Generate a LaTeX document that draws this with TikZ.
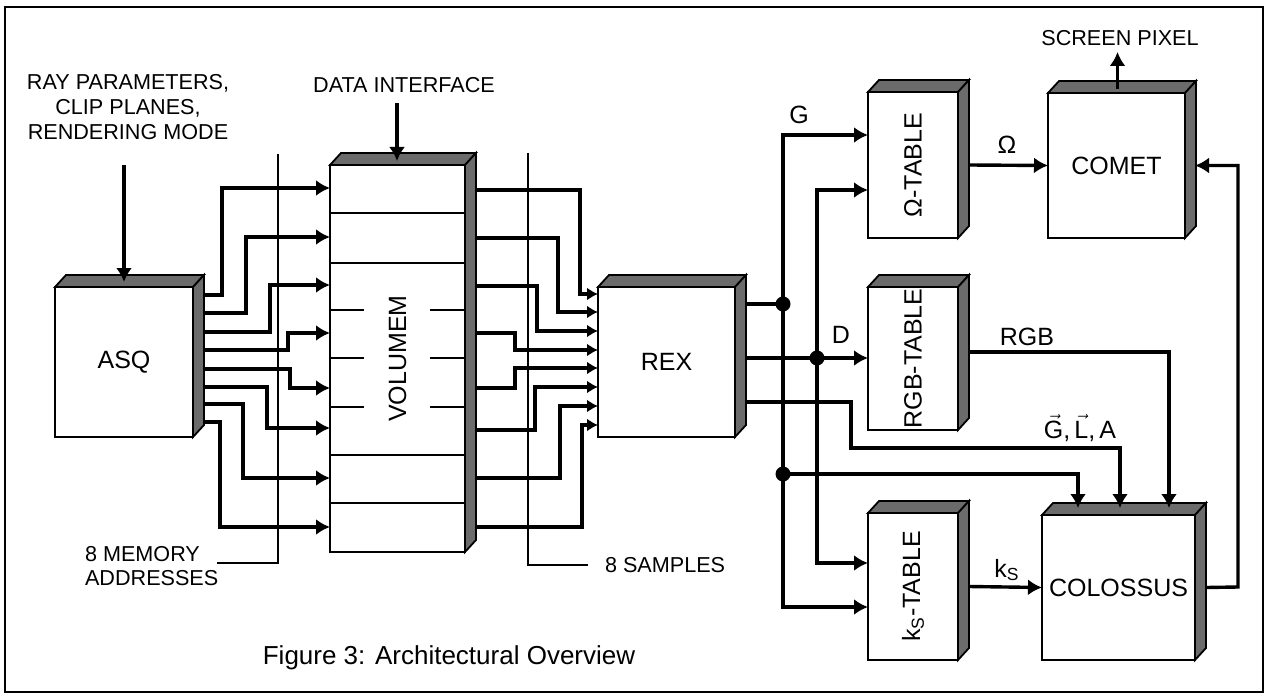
\documentclass[tikz,border=0pt]{standalone}
\usepackage{amsmath}
\usepackage{fontspec}
\setmainfont{Liberation Sans}
\usetikzlibrary{calc,fit,arrows.meta}
\newcommand\threedbox[5]{%
  \node[blk,fit={(#2,#3) (#4,#5)}] (#1) {};
  \filldraw[face] (#1.north west) -- ++(11,-12) -- ($(#1.north east)+(11,-12)$) -- (#1.north east) -- cycle;
  \filldraw[face] (#1.north east) -- ++(11,-12) -- ($(#1.south east)+(11,-12)$) -- (#1.south east) -- cycle;
}
\begin{document}
\begin{tikzpicture}[x=0.5pt,y=-0.5pt,
  blk/.style={draw,line width=1.2pt,fill=white,inner sep=0pt,outer sep=0pt},
  face/.style={draw,line width=0.9pt,fill=black!58},
  big/.style={font=\fontsize{12.5}{15}\selectfont},
  small/.style={font=\fontsize{10.8}{12.3}\selectfont,align=center},
  conn/.style={line width=1.7pt,-{Latex[length=7pt,width=8pt]}},
  tip/.style={line width=1.7pt,-{Latex[length=5.5pt,width=6.5pt]}},
  wire/.style={line width=1.7pt},
  thin/.style={line width=0.8pt},
  dot/.style={circle,fill,inner sep=0pt,minimum size=7.5pt}]
\useasboundingbox (0,0) rectangle (1268,695);
\draw[line width=1.2pt] (5,7) rectangle (1263,692);

% boxes
\threedbox{asq}{55}{287}{193}{437}
\threedbox{vol}{330}{165}{465}{552}
\threedbox{rex}{598}{287}{735}{437}
\threedbox{omt}{868}{92}{958}{238}
\threedbox{rgbt}{868}{287}{958}{430}
\threedbox{kst}{868}{513}{958}{660}
\threedbox{comet}{1048}{93}{1185}{238}
\threedbox{col}{1042}{515}{1195}{660}

\node[big] (asqL) at (asq.center) {ASQ};
\node[big,rotate=90] (volL) at (vol.center) {VOLUMEM};
\node[big] (rexL) at (rex.center) {REX};
\node[big,rotate=90] (omtL) at (omt.center) {Ω-TABLE};
\node[big,rotate=90] (rgbtL) at (rgbt.center) {RGB-TABLE};
\node[big,rotate=90] (kstL) at (kst.center) {k$_{\text{S}}$-TABLE};
\node[big] (cometL) at (comet.center) {COMET};
\node[big] (colL) at (col.center) {COLOSSUS};

% VOLUMEM internal lines
\foreach \y in {213,263,455,503} \draw[line width=1pt] (vol.west |- 0,\y) -- (vol.east |- 0,\y);
\foreach \y in {310,358,407} {
  \draw[line width=1pt] (vol.west |- 0,\y) -- (364,\y);
  \draw[line width=1pt] (430,\y) -- (vol.east |- 0,\y);
}

% inputs from top
\node[small] (rp) at (128,107) {RAY PARAMETERS,\\CLIP PLANES,\\RENDERING MODE};
\draw[conn] (124,165) -- (124,282);
\node[small] (di) at (404,85) {DATA INTERFACE};
\draw[conn] (397,103) -- (397,161);

% ASQ -> VOLUMEM
\coordinate (asqR) at ($(asq.north east)+(11,0)$);
\foreach \a/\b/\c in {295/222/188,313/246/237,332/270/285,350/288/333,369/290/388,387/267/428,404/243/478,422/220/527}
  \draw[conn] (asqR |- 0,\a) -- (\b,\a) -- (\b,\c) -- (vol.west |- 0,\c);

% VOLUMEM -> REX
\coordinate (volR) at ($(vol.north east)+(11,0)$);
\foreach \a/\b/\c in {190/580/294,238/558/312,286/537/331,333/515/350,388/515/368,430/535/387,478/560/406,527/582/425}
  \draw[tip] (volR |- 0,\a) -- (\b,\a) -- (\b,\c) -- (rex.west |- 0,\c);

% leader lines
\draw[thin] (278,154) -- (278,563) -- (217,563);
\node[small,align=left,anchor=west] (mem) at (78,566) {8 MEMORY\\ADDRESSES};
\draw[thin] (528,153) -- (528,565) -- (588,565);
\node[small,anchor=west] (smp) at (598,565) {8 SAMPLES};

% REX outputs
\coordinate (rexR) at ($(rex.north east)+(11,0)$);
\node[dot] (j1) at (783,304) {};
\node[dot] (j2) at (783,474) {};
\node[dot] (j3) at (817,358) {};
\draw[wire] (rexR |- j1) -- (j1.center);
\draw[conn] (j1.center) |- (omt.west |- 0,135);
\draw[conn] (j1.center) |- (kst.west |- 0,607);
\draw[conn] (j2.center) -| (1078,508);
\node[big] (gL) at (799,115) {G};
\draw[wire] (rexR |- j3) -- (j3.center);
\draw[conn] (j3.center) -- (rgbt.west |- j3);
\draw[conn] (j3.center) |- (omt.west |- 0,190);
\draw[conn] (j3.center) |- (kst.west |- 0,563);
\node[big] (dL) at (841,335) {D};
\draw[conn] (rexR |- 0,402) -- (851,402) -- (851,448) -- (1120,448) -- (1120,508);
\node[big] (glaL) at (1080,428) {$\vec{\text{G}}$,\,$\vec{\text{L}}$,\,A};

% table outputs
\coordinate (omR) at ($(omt.east)+(11,0)$);
\draw[conn] (omR) -- (comet.west);
\node[big] (omL) at (1007,145) {Ω};
\coordinate (rgbR) at ($(rgbt.north east)+(11,0)$);
\draw[conn] (rgbR |- 0,352) -| (1169,508);
\node[big] (rgbL) at (1027,337) {RGB};
\coordinate (ksR) at ($(kst.east)+(11,0)$);
\draw[conn] (ksR) -- (col.west);
\node[big] (ksL) at (1007,570) {k$_{\text{S}}$};

% COLOSSUS -> COMET
\coordinate (colR) at ($(col.east)+(11,0)$);
\draw[conn] (colR) -- (1238,587) |- ($(comet.east)+(10,0)$);

% screen pixel
\draw[conn] ($(comet.north)+(1,-4)$) -- ++(0,-37);
\node[small] (sp) at (1120,38) {SCREEN PIXEL};

% caption
\node[font=\fontsize{13}{15}\selectfont] (cap) at (449,658) {Figure 3: Architectural Overview};
\end{tikzpicture}
\end{document}
